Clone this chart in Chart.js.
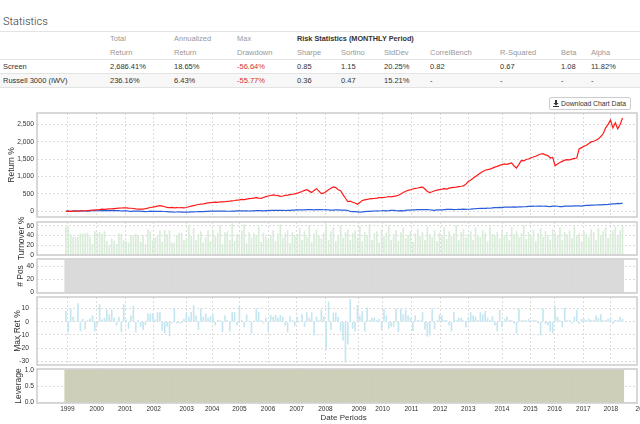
<!DOCTYPE html>
<html><head><meta charset="utf-8">
<script src="https://cdn.jsdelivr.net/npm/chart.js@4.4.0/dist/chart.umd.min.js"></script>
<style>
html,body{margin:0;padding:0;background:#fff;}
body{width:640px;height:424px;position:relative;overflow:hidden;font-family:"Liberation Sans",Arial,sans-serif;}
canvas{position:absolute;left:0;top:0;}
.c{position:absolute;white-space:nowrap;font-size:7.5px;line-height:10px;color:#333;}
.h{color:#999;}
.b{font-weight:bold;color:#333;font-size:7.3px;}
.r{color:#d0343a;}
.ln{position:absolute;left:0;width:640px;height:1px;background:#e3e3e3;}
#title{position:absolute;left:3px;top:15px;font-family:Roboto,"Liberation Sans",sans-serif;font-weight:300;font-size:11px;color:#333;}
#dl{position:absolute;left:549px;top:97px;width:80px;height:11px;border:1px solid #ccc;border-radius:2px;font-size:6.8px;line-height:11px;color:#333;background:#fff;}
</style></head><body>
<div id="title">Statistics</div>
<div id="tbl"></div>
<div id="dl"><svg style="position:absolute;left:3px;top:2px" width="6" height="7" viewBox="0 0 6 7"><path d="M2 0h2v3h1.6L3 5.4 0.4 3H2z M0 6h6v1H0z" fill="#333"/></svg><span style="position:absolute;left:11px;top:0">Download Chart Data</span></div>
<canvas id="c1" width="640" height="424"></canvas>
<canvas id="c2" width="640" height="424"></canvas>
<canvas id="c3" width="640" height="424"></canvas>
<canvas id="c4" width="640" height="424"></canvas>
<canvas id="c5" width="640" height="424"></canvas>
<script>
// ---------- table text ----------
const statHead1 = ['', 'Total', 'Annualized', 'Max', 'Risk Statistics (MONTHLY Period)'];
const statHead2 = ['', 'Return', 'Return', 'Drawdown', 'Sharpe', 'Sortino', 'StdDev', 'CorrelBench', 'R-Squared', 'Beta', 'Alpha'];
const screenRow = ['Screen', '2,686.41%', '18.65%', '-56.64%', '0.85', '1.15', '20.25%', '0.82', '0.67', '1.08', '11.82%'];
const benchRow = ['Russell 3000 (IWV)', '236.16%', '6.43%', '-55.77%', '0.36', '0.47', '15.21%', '-', '-', '-', '-'];

// ---------- x axis ticks (period index of each year label) ----------
const yearLabels = ['1999','2000','2001','2002','2003','2004','2005','2006','2007','2008','2009','2010','2011','2012','2013','2014','2015','2016','2017','2018','2019'];
const yearTickPos = [0.6,12.8,24.6,36.4,50.1,60.7,72.0,83.9,95.8,107.7,121.6,131.4,143.4,155.3,167.0,181.0,192.8,202.8,214.7,226.2,239.4];

// ---------- series ----------
const screenRet = [
0,3,-2,5,8,6,12,10,15,20,28,35,
38,45,52,60,55,65,72,70,78,85,90,95,
100,98,92,88,80,70,65,60,62,75,90,110,
120,135,150,160,150,130,115,105,110,100,108,102,
105,98,110,130,150,165,180,195,205,215,230,240,
250,255,262,258,268,270,275,285,290,300,310,322,
330,340,335,350,362,370,380,390,378,370,395,420,
440,455,470,462,448,430,440,455,465,480,490,500,
520,545,570,600,620,580,540,600,650,580,510,520,
570,620,660,700,680,620,590,480,375,280,290,260,
240,200,250,310,330,340,355,365,370,380,392,395,
400,410,425,415,430,443,460,500,540,575,600,620,
640,660,670,685,694,640,570,540,560,590,610,625,
636,650,640,665,680,690,694,710,720,732,780,857,
900,950,1000,1050,1100,1146,1180,1200,1214,1240,1270,1291,
1320,1340,1360,1350,1368,1387,1300,1243,1350,1464,1450,1490,
1503,1540,1560,1580,1620,1647,1657,1620,1600,1532,1550,1310,
1360,1400,1435,1470,1484,1480,1500,1520,1532,1792,1830,1869,
1900,1950,1994,2013,2040,2081,2150,2235,2399,2500,2621,2398,
2543,2370,2495,2686];

const benchRet = [
0,4,1,5,10,8,13,10,9,6,12,16,
21,15,18,28,22,18,22,20,28,22,19,8,
12,16,5,-2,7,8,6,4,-3,-10,-6,2,
-1,-2,-4,0,-5,-6,-12,-19,-18,-27,-21,-16,
-22,-24,-26,-25,-19,-14,-13,-11,-9,-10,-5,-4,
2,4,6,4,2,4,6,1,1,3,5,10,
14,11,13,10,8,12,13,18,17,17,14,19,
21,24,24,26,28,24,24,23,26,29,33,36,
40,42,39,40,46,50,48,43,46,48,51,45,
47,38,35,34,39,42,32,31,33,22,0,-7,
-8,-16,-26,-19,-9,-4,-4,4,8,12,8,16,
18,13,17,24,27,18,12,21,15,26,31,31,
40,43,48,48,52,50,47,44,36,26,40,39,
40,47,53,56,55,46,51,53,56,60,58,59,
63,72,74,81,84,88,85,93,88,96,103,107,
114,107,117,118,117,120,126,122,127,125,130,134,
144,139,147,145,146,147,145,148,139,134,147,148,
145,137,137,146,147,150,150,156,156,154,150,163,
169,172,178,178,181,184,186,191,192,198,206,212,
216,227,219,236];

const turnover = [
57,57,42,36,36,36,43,43,44,45,36,22,
48,45,47,43,48,28,18,33,29,22,44,43,
30,28,25,40,40,43,38,27,40,22,52,48,
30,35,40,50,26,50,42,50,25,25,40,45,
45,30,32,60,38,55,30,42,48,25,35,50,
28,52,38,45,60,22,46,48,30,64,28,42,
40,50,62,24,46,35,44,40,58,26,45,36,
30,40,50,28,44,62,35,45,50,24,46,38,
42,55,30,48,36,60,26,44,52,40,33,45,
62,30,48,56,28,40,60,35,46,52,30,44,
50,36,58,28,46,40,62,30,44,48,25,52,
38,45,60,30,42,50,28,46,55,34,40,48,
26,44,52,38,46,30,58,42,36,50,28,45,
40,56,32,48,38,44,60,30,46,52,35,42,
48,30,55,40,36,50,45,28,58,42,38,46,
34,52,40,46,30,56,42,48,36,44,60,32,
46,38,50,28,44,54,36,48,40,30,52,45,
38,56,30,46,42,50,34,58,40,44,28,48,
42,36,52,46,30,54,40,48,56,34,44,50,
58,38,50,60];

const numPos = [
50,50,50,50,50,50,50,50,50,50,50,50,
50,50,50,50,50,50,50,50,50,50,50,50,
50,50,50,50,50,50,50,50,50,50,50,50,
50,50,50,50,50,50,50,50,50,50,50,50,
50,50,50,50,50,50,50,50,50,50,50,50,
50,50,50,50,50,50,50,50,50,50,50,50,
50,50,50,50,50,50,50,50,50,50,50,50,
50,50,50,50,50,50,50,50,50,50,50,50,
50,50,50,50,50,50,50,50,50,50,50,50,
50,50,50,50,50,50,50,50,50,50,50,50,
50,50,50,50,50,50,50,50,50,50,50,50,
50,50,50,50,50,50,50,50,50,50,50,50,
50,50,50,50,50,50,50,50,50,50,50,50,
50,50,50,50,50,50,50,50,50,50,50,50,
50,50,50,50,50,50,50,50,50,50,50,50,
50,50,50,50,50,50,50,50,50,50,50,50,
50,50,50,50,50,50,50,50,50,50,50,50,
50,50,50,50,50,50,50,50,50,50,50,50,
50,50,50,50,50,50,50,50,50,50,50,50,
50,50,50,50];

const maxRet = [
8,-7.7,9.7,3.6,0.5,13.8,-7,2,-5.6,1,2,4.6,
-7,-2.5,13,1.5,2.8,9,5.4,9,2.8,-2.5,3.6,-7.7,
13,1.5,-5,4.6,11.8,-7.7,1,-3.6,-6,-2.5,6,6,
6,1.5,7,7,-6.7,-8.7,-3.6,-10.8,-1,9.7,-1,-1,
-1,2,7,3.6,7.2,12.3,4.6,-6,9.7,3.6,6,2.8,
4,5.4,-2.5,1,1,-7.7,4.6,1,-7,7,7,-2.5,
11.8,1,-4,5.4,0.5,-8.7,0.5,9.7,7,1,-1,2.8,
-7.7,5,3.6,5,2.8,5,3.6,-2.5,-7.7,4,1,-3,
3.6,0.5,5.4,-3.6,7,2.8,7,-10,3.6,1,9,4,
-21,15,-6,6.7,6.7,3.6,-7,-14,-30.8,-17,17,-5,
-7,12.3,4.6,8,-7,10.5,1,2.8,2.8,1,2,-6,
9.7,4.6,-5,-3.6,-3.6,9.7,-7.7,9.7,5.4,9,4.6,2.8,
-6.7,4.6,1,1,7,-5.6,-11,-10,9.7,-5.6,1,5.4,
4.6,1,1,-2.5,-7,7,1,2.8,2.8,1,-4,2.8,
7,4.6,3.6,1,7,5.4,8,2.8,1,4,-2.5,-7,
8.7,-3.6,2,3.6,1,1,-1,-8.7,9.7,1,1,1,
2,1,1,1,-1,-10,9.7,-1.5,-2.5,-7,-8.7,11.3,
3.6,1,-4,10.5,1,1,-1,3.6,9,-1.5,2,2,
1,2,1,1,4.6,2.8,5.4,1,1,2,2.8,-1.5,
1,1,3.6,2];

const leverage = [
1,1,1,1,1,1,1,1,1,1,1,1,
1,1,1,1,1,1,1,1,1,1,1,1,
1,1,1,1,1,1,1,1,1,1,1,1,
1,1,1,1,1,1,1,1,1,1,1,1,
1,1,1,1,1,1,1,1,1,1,1,1,
1,1,1,1,1,1,1,1,1,1,1,1,
1,1,1,1,1,1,1,1,1,1,1,1,
1,1,1,1,1,1,1,1,1,1,1,1,
1,1,1,1,1,1,1,1,1,1,1,1,
1,1,1,1,1,1,1,1,1,1,1,1,
1,1,1,1,1,1,1,1,1,1,1,1,
1,1,1,1,1,1,1,1,1,1,1,1,
1,1,1,1,1,1,1,1,1,1,1,1,
1,1,1,1,1,1,1,1,1,1,1,1,
1,1,1,1,1,1,1,1,1,1,1,1,
1,1,1,1,1,1,1,1,1,1,1,1,
1,1,1,1,1,1,1,1,1,1,1,1,
1,1,1,1,1,1,1,1,1,1,1,1,
1,1,1,1,1,1,1,1,1,1,1,1,
1,1,1,1];

const returnTicks = [0,500,1000,1500,2000,2500];
const turnoverTicks = [0,20,40,60];
const posTicks = [0,20,40];
const maxRetTicks = [-30,-20,-10,0,10];
const leverageTicks = [0,0.5,1];

// ---------- table ----------
(function(){
  const colX = [3,110,174,237,297,341,384,430,500,561,591];
  const tbl = document.getElementById('tbl');
  function cell(txt, x, yc, cls){
    const d = document.createElement('div');
    d.className = 'c ' + (cls||'');
    d.textContent = txt;
    d.style.left = x + 'px';
    d.style.top = (yc - 5) + 'px';
    tbl.appendChild(d);
  }
  function line(y){ const d=document.createElement('div'); d.className='ln'; d.style.top=y+'px'; tbl.appendChild(d); }
  const bg = document.createElement('div');
  bg.style.cssText='position:absolute;left:0;top:73px;width:640px;height:14px;background:#f7f7f7;';
  tbl.appendChild(bg);
  line(31); line(59); line(73); line(87);
  statHead1.forEach((t,i)=>{ if(t) cell(t, colX[i], 38.5, i===4?'b':'h'); });
  statHead2.forEach((t,i)=>{ if(t) cell(t, colX[i], 52.5, 'h'); });
  screenRow.forEach((t,i)=>cell(t, colX[i], 66.5, i===3?'r':''));
  benchRow.forEach((t,i)=>cell(t, colX[i], 80.5, i===3?'r':''));
})();

// ---------- charts ----------
Chart.defaults.font.family = "'Liberation Sans', Arial, sans-serif";
Chart.defaults.color = '#333';
const H = 424;
const GRID = '#dcdcdc';
const frame = { id:'frame', afterDraw(c){
  const a=c.chartArea, ctx=c.ctx; ctx.save(); ctx.strokeStyle='#cbcbcb'; ctx.lineWidth=1.5;
  ctx.strokeRect(a.left, a.top, a.right-a.left, a.bottom-a.top); ctx.restore(); } };
const pts = arr => arr.map((v,i)=>({x:i, y:v}));

function xAxis(last){
  return {
    type:'linear', min:-12, max:237, offset:false,
    afterBuildTicks(s){ s.ticks = yearTickPos.map(v=>({value:v})); },
    afterFit(s){ s.height = last ? 21 : 0; s.paddingLeft=0; s.paddingRight=0; s.paddingTop=0; s.paddingBottom=0; },
    grid:{color:GRID, lineWidth:1, drawTicks:false, offset:false},
    border:{display:false, dash:[2,2]},
    ticks:{display:last, autoSkip:false, maxRotation:0, minRotation:0, padding:2, font:{size:6.5}, color:'#333',
      callback:(v,i)=>yearLabels[i]},
    title:{display:last, text:'      Date Periods', font:{size:8}, color:'#333', padding:{top:0,bottom:1}}
  };
}
function yAxis(o){
  return {
    type:'linear', min:o.min, max:o.max,
    afterBuildTicks(s){ s.ticks = o.ticks.map(v=>({value:v})); },
    afterFit(s){ s.width = 37; s.paddingTop=0; s.paddingBottom=0; },
    grid:{color:GRID, lineWidth:1, drawTicks:false},
    border:{display:false, dash:[2,2]},
    ticks:{autoSkip:false, padding:o.tickPad, font:{size:6.7}, color:'#333', callback:o.fmt},
    title:{display:true, text:o.title, font:{size:8.5}, color:'#333', padding:{top:o.titlePad,bottom:0}}
  };
}
function panel(id, top, bottom, last, type, datasets, y){
  new Chart(document.getElementById(id), {
    type, data:{datasets},
    options:{responsive:false, animation:false, events:[],
      layout:{padding:{left:0,right:3,top:top,bottom:last?0:H-bottom}},
      plugins:{legend:{display:false}, tooltip:{enabled:false}},
      scales:{x:xAxis(last), y:yAxis(y)}},
    plugins:[frame]
  });
}

panel('c1', 113, 217, false, 'line', [
  {label:'Screen', data:pts(screenRet), borderColor:'#ff1a1a', borderWidth:1.2, pointRadius:0, tension:0},
  {label:'Russell 3000 (IWV)', data:pts(benchRet), borderColor:'#2b5fd9', borderWidth:1.2, pointRadius:0, tension:0}
], {min:-164, max:2825, ticks:returnTicks, tickPad:3, titlePad:6.9, title:'Return %', fmt:v=>v.toLocaleString('en-US')});

panel('c2', 222, 255, false, 'bar', [
  {label:'Turnover', data:pts(turnover), backgroundColor:'#d9ecd9', barThickness:1}
], {min:0, max:67.5, ticks:turnoverTicks, tickPad:3, titlePad:16.6, title:'Turnover %', fmt:v=>String(v)});

panel('c3', 259, 293, false, 'bar', [
  {label:'# Pos', data:pts(numPos), backgroundColor:'#dadada', barPercentage:1, categoryPercentage:1}
], {min:-1, max:51.6, ticks:posTicks, tickPad:3, titlePad:15.9, title:'# Pos', fmt:v=>String(v)});

panel('c4', 297, 365, false, 'bar', [
  {label:'Max Ret', data:pts(maxRet), backgroundColor:'#c4e6f0', barThickness:1}
], {min:-32.8, max:18.8, ticks:maxRetTicks, tickPad:8, titlePad:12.9, title:'Max Ret %', fmt:v=>String(v)});

panel('c5', 369, 403, true, 'bar', [
  {label:'Leverage', data:pts(leverage), backgroundColor:'#cdcfb8', barPercentage:1, categoryPercentage:1}
], {min:-0.015, max:1.03, ticks:leverageTicks, tickPad:3, titlePad:13.9, title:'Leverage', fmt:v=>v.toFixed(1)});
</script>
</body></html>
